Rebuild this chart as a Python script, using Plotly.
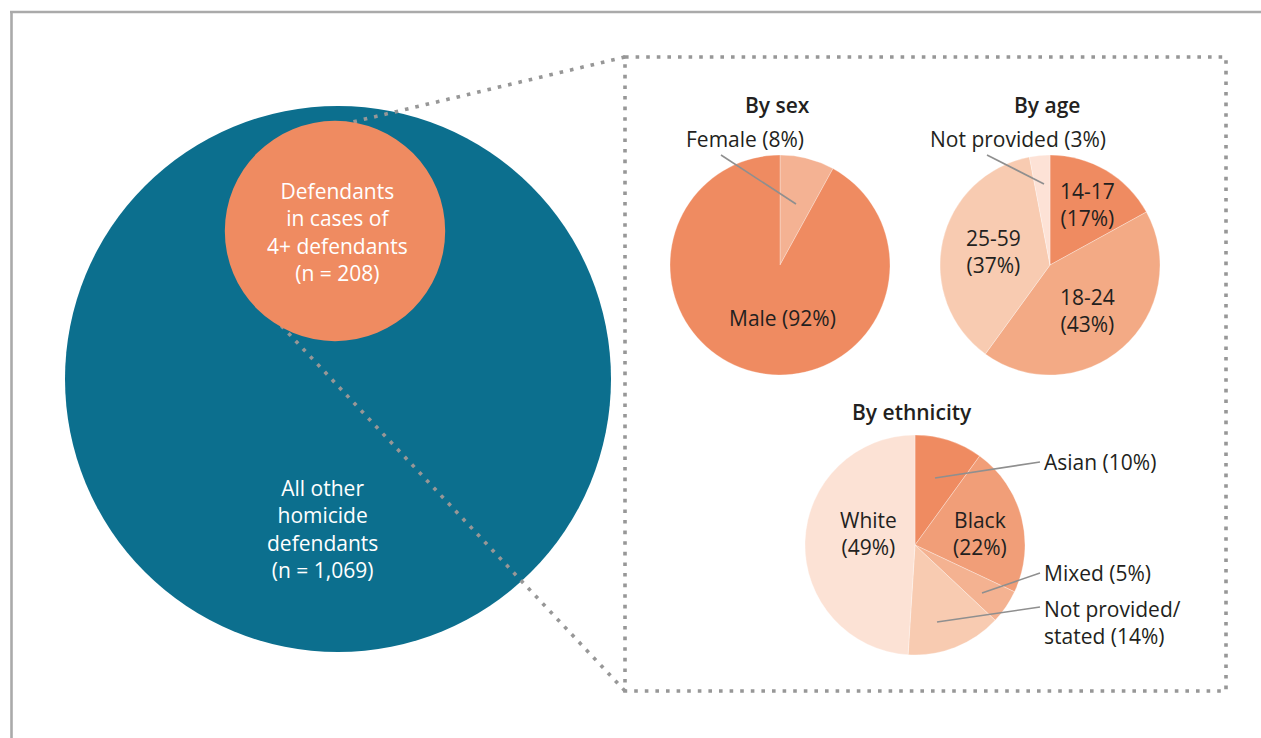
import numpy as np
import plotly.graph_objects as go

W, H = 1261, 738

# ---- data ----
n_group = 208      # defendants in cases of 4+ defendants
n_other = 1069     # all other homicide defendants

sex_labels = ["Female", "Male"]
sex_values = [8, 92]

age_labels = ["14-17", "18-24", "25-59", "Not provided"]
age_values = [17, 43, 37, 3]

eth_labels = ["Asian", "Black", "Mixed", "Not provided/<br>stated", "White"]
eth_values = [10, 22, 5, 14, 49]

# ---- style ----
TEAL = "#0c6f8e"
ORANGE = "#ef8b61"
DOT = "#979797"
TXT = "#231f20"
FONT = "Open Sans"
FS = 21

sex_colors = ["#f4b293", ORANGE]
age_colors = [ORANGE, "#f3aa85", "#f8cbb1", "#fde2d6"]
eth_colors = [ORANGE, "#f19e78", "#f4b291", "#f8cbb1", "#fce2d5"]


def dom(cx, cy, r):
    """Pie domain (paper fractions) for a pie centred at pixel (cx, cy)."""
    return dict(x=[(cx - r) / W, (cx + r) / W],
                y=[1 - (cy + r) / H, 1 - (cy - r) / H])


PIE_R = 110
pies = [
    (sex_labels, sex_values, sex_colors, (780, 265)),
    (age_labels, age_values, age_colors, (1050, 265)),
    (eth_labels, eth_values, eth_colors, (915, 545)),
]

fig = go.Figure()
for labels, values, colors, (cx, cy) in pies:
    fig.add_trace(go.Pie(
        labels=labels, values=values, sort=False, direction="clockwise",
        rotation=0, textinfo="none", hoverinfo="label+percent",
        marker=dict(colors=colors, line=dict(color="rgba(255,255,255,0.5)", width=0.6)),
        domain=dom(cx, cy, PIE_R), showlegend=False,
    ))

# ---- proportional circles ----
big_r = 273
small_r = big_r * np.sqrt(n_group / (n_group + n_other))
big_c = (338, 379)
small_c = (335, 231)

shapes = []
shapes.append(dict(type="circle", xref="x", yref="y",
                   x0=big_c[0] - big_r, x1=big_c[0] + big_r,
                   y0=big_c[1] - big_r, y1=big_c[1] + big_r,
                   fillcolor=TEAL, line=dict(width=0), layer="above"))

dot_line = dict(color=DOT, width=3.6, dash="3.6px,7px")
box = (625, 57, 1226, 691)
# connector lines from the detail box to the highlighted circle
shapes.append(dict(type="line", xref="x", yref="y", x0=box[0], y0=box[1],
                   x1=small_c[0] - 20, y1=small_c[1] - 100, line=dot_line, layer="above"))
shapes.append(dict(type="line", xref="x", yref="y", x0=box[0], y0=box[3],
                   x1=small_c[0] - 60, y1=small_c[1] + 88, line=dot_line, layer="above"))

shapes.append(dict(type="circle", xref="x", yref="y",
                   x0=small_c[0] - small_r, x1=small_c[0] + small_r,
                   y0=small_c[1] - small_r, y1=small_c[1] + small_r,
                   fillcolor=ORANGE, line=dict(width=0), layer="above"))

# detail box
shapes.append(dict(type="rect", xref="x", yref="y", x0=box[0], y0=box[1],
                   x1=box[2], y1=box[3], line=dot_line, layer="above"))

# outer frame (top and left edges)
frame = dict(color="#aaaaaa", width=2.6)
shapes.append(dict(type="line", xref="x", yref="y", x0=10, y0=12, x1=W, y1=12, line=frame))
shapes.append(dict(type="line", xref="x", yref="y", x0=11.5, y0=12, x1=11.5, y1=H, line=frame))

# leader lines for outside labels
lead = dict(color="#8f8f8f", width=1.6)
leaders = [
    (721, 155, 796, 204),    # Female
    (987, 155, 1044, 184),   # Not provided (age)
    (935, 478, 1040, 462),   # Asian
    (982, 593, 1040, 573),   # Mixed
    (937, 622, 1040, 607),   # Not provided/stated
]
for x0, y0, x1, y1 in leaders:
    shapes.append(dict(type="line", xref="x", yref="y", x0=x0, y0=y0, x1=x1, y1=y1,
                       line=lead, layer="above"))


def pct(v):
    return f"({v}%)"


ann = []


def label(x, y, text, color=TXT, xanchor="center", align="center", weight=None, size=FS):
    f = dict(family=FONT, size=size, color=color)
    if weight:
        f["weight"] = weight
    ann.append(dict(x=x, y=y, xref="x", yref="y", text=text, showarrow=False,
                    xanchor=xanchor, yanchor="middle", align=align, font=f))


# circle labels
label(337, 232, f"Defendants<br>in cases of<br>4+ defendants<br>(n = {n_group:,})", color="white")
label(322, 529, f"All other<br>homicide<br>defendants<br>(n = {n_other:,})", color="white")

# pie titles
label(777, 105, "By sex", weight=600)
label(1047, 105, "By age", weight=600)
label(912, 412, "By ethnicity", weight=600)

# sex
label(745, 139, f"{sex_labels[0]} {pct(sex_values[0])}")
label(782, 318, f"{sex_labels[1]} {pct(sex_values[1])}")

# age
label(1087, 204, f"{age_labels[0]}<br>{pct(age_values[0])}")
label(1087, 310, f"{age_labels[1]}<br>{pct(age_values[1])}")
label(993, 251, f"{age_labels[2]}<br>{pct(age_values[2])}")
label(1018, 139, f"{age_labels[3]} {pct(age_values[3])}")

# ethnicity
label(868, 533, f"{eth_labels[4]}<br>{pct(eth_values[4])}")
label(980, 533, f"{eth_labels[1]}<br>{pct(eth_values[1])}")
label(1042, 462, f"{eth_labels[0]} {pct(eth_values[0])}", xanchor="left", align="left")
label(1042, 573, f"{eth_labels[2]} {pct(eth_values[2])}", xanchor="left", align="left")
label(1042, 622, f"{eth_labels[3]} {pct(eth_values[3])}", xanchor="left", align="left")

fig.update_layout(
    width=W, height=H, margin=dict(l=0, r=0, t=0, b=0),
    paper_bgcolor="white", plot_bgcolor="white",
    xaxis=dict(range=[0, W], visible=False, fixedrange=True),
    yaxis=dict(range=[H, 0], visible=False, fixedrange=True),
    shapes=shapes, annotations=ann,
)

fig.write_html("out.html")
